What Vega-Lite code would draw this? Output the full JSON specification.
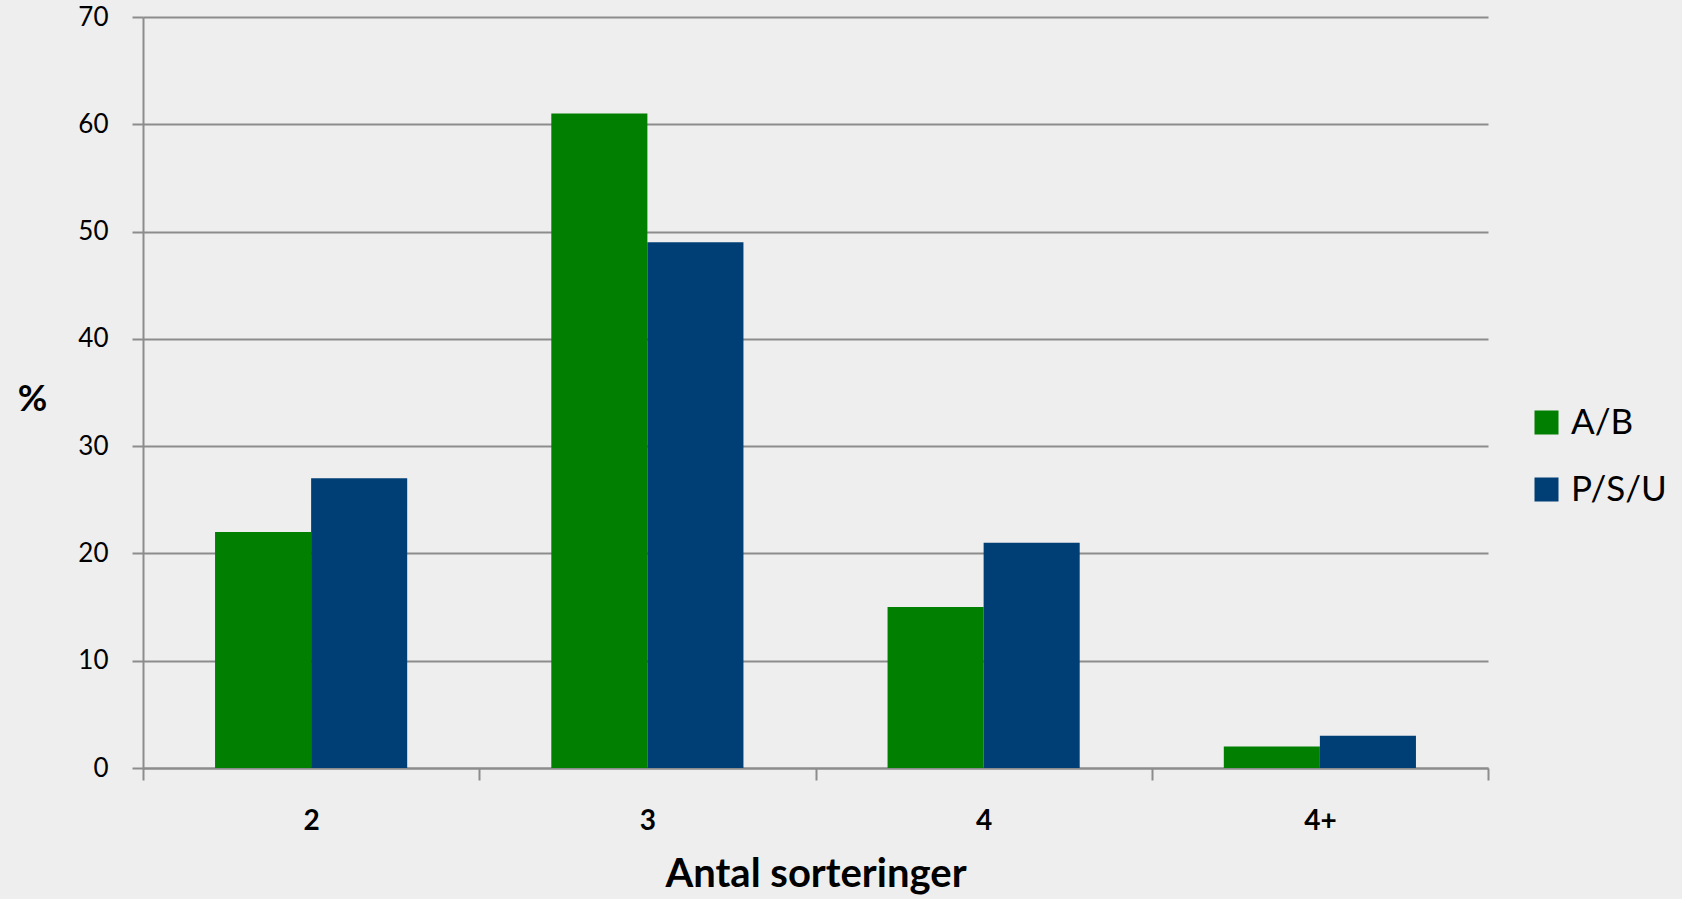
{
  "$schema": "https://vega.github.io/schema/vega-lite/v6.json",
  "autosize": {"type": "none"},
  "width": 1345,
  "height": 751,
  "padding": {"left": 143, "top": 17, "right": 194, "bottom": 131},
  "background": "#eeeeee",
  "config": {"view": {"stroke": null}, "font": "Lato"},
  "data": {
    "values": [
      {"sort": "2", "group": "A/B", "value": 22},
      {"sort": "2", "group": "P/S/U", "value": 27},
      {"sort": "3", "group": "A/B", "value": 61},
      {"sort": "3", "group": "P/S/U", "value": 49},
      {"sort": "4", "group": "A/B", "value": 15},
      {"sort": "4", "group": "P/S/U", "value": 21},
      {"sort": "4+", "group": "A/B", "value": 2},
      {"sort": "4+", "group": "P/S/U", "value": 3}
    ]
  },
  "mark": {"type": "bar"},
  "encoding": {
    "x": {
      "field": "sort",
      "type": "nominal",
      "sort": ["2", "3", "4", "4+"],
      "scale": {"paddingInner": 0, "paddingOuter": 0},
      "axis": {
        "title": "Antal sorteringer",
        "labelAngle": 0,
        "tickBand": "extent",
        "labelFontWeight": "bold",
        "labelFontSize": 28,
        "labelColor": "#000000",
        "labelBaseline": "middle",
        "labelPadding": 41,
        "tickSize": 12,
        "tickColor": "#8c8c8c",
        "tickWidth": 2,
        "domainColor": "#8c8c8c",
        "domainWidth": 2,
        "grid": false,
        "titleFontSize": 40,
        "titleFontWeight": "bold",
        "titleColor": "#000000",
        "titleBaseline": "middle",
        "titleY": 106
      }
    },
    "xOffset": {
      "field": "group",
      "type": "nominal",
      "sort": ["A/B", "P/S/U"],
      "scale": {"paddingInner": 0, "paddingOuter": 0.75}
    },
    "y": {
      "field": "value",
      "type": "quantitative",
      "scale": {"domain": [0, 70], "nice": false},
      "axis": {
        "values": [0, 10, 20, 30, 40, 50, 60, 70],
        "title": "%",
        "titleAngle": 0,
        "titleX": -111,
        "titleY": 382,
        "titleAlign": "center",
        "titleBaseline": "middle",
        "titleFontSize": 36,
        "titleFontWeight": "bold",
        "titleColor": "#000000",
        "labelFontSize": 26,
        "labelColor": "#000000",
        "labelPadding": 24,
        "tickSize": 11,
        "tickColor": "#8c8c8c",
        "tickWidth": 2,
        "domainColor": "#8c8c8c",
        "domainWidth": 2,
        "gridColor": "#8c8c8c",
        "gridWidth": 2,
        "gridOpacity": 1
      }
    },
    "color": {
      "field": "group",
      "type": "nominal",
      "sort": ["A/B", "P/S/U"],
      "scale": {"domain": ["A/B", "P/S/U"], "range": ["#007f00", "#003f75"]},
      "legend": {
        "title": null,
        "orient": "none",
        "legendX": 1386,
        "legendY": 388,
        "symbolType": "square",
        "symbolSize": 576,
        "symbolStrokeWidth": 0,
        "symbolOpacity": 1,
        "labelFontSize": 35,
        "labelColor": "#000000",
        "labelOffset": 7,
        "rowPadding": 31
      }
    }
  }
}
